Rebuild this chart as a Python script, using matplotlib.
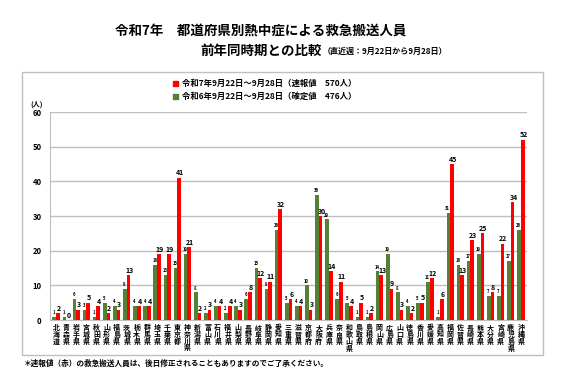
import matplotlib.pyplot as plt
import numpy as np

plt.rcParams['font.family'] = ['Noto Sans CJK JP', 'DejaVu Sans']

prefs = ['北海道', '青森県', '岩手県', '宮城県', '秋田県', '山形県', '福島県', '茨城県', '栃木県', '群馬県',
         '埼玉県', '千葉県', '東京都', '神奈川県', '新潟県', '富山県', '石川県', '福井県', '山梨県', '長野県',
         '岐阜県', '静岡県', '愛知県', '三重県', '滋賀県', '京都府', '大阪府', '兵庫県', '奈良県', '和歌山県',
         '鳥取県', '島根県', '岡山県', '広島県', '山口県', '徳島県', '香川県', '愛媛県', '高知県', '福岡県',
         '佐賀県', '長崎県', '熊本県', '大分県', '宮崎県', '鹿児島県', '沖縄県']
r7 = [2, 0, 3, 5, 4, 2, 3, 13, 4, 4,
      19, 19, 41, 21, 2, 3, 4, 4, 3, 8,
      12, 11, 32, 6, 4, 3, 30, 14, 11, 4,
      5, 2, 13, 9, 3, 2, 5, 12, 6, 45,
      13, 23, 25, 8, 22, 34, 52]
r6 = [1, 1, 6, 3, 1, 5, 4, 9, 4, 4,
      16, 13, 15, 19, 8, 2, 4, 2, 4, 6,
      15, 9, 26, 5, 4, 10, 36, 29, 6, 5,
      1, 1, 14, 19, 8, 4, 5, 11, 1, 31,
      16, 17, 19, 7, 7, 17, 26]

fig = plt.figure(figsize=(5.67, 3.73), dpi=100)

# chart frame
frame = plt.Rectangle((22/567, 1-355/373), (543-22)/567, (355-72)/373,
                      transform=fig.transFigure, fill=False, ec='#bfbfbf', lw=1)
fig.patches.append(frame)

ax = fig.add_axes([50/567, 1-320/373, (527-50)/567, (320-112)/373])
x = np.arange(len(prefs))
w = 0.36
ax.bar(x - w/2, r6, w, color='#548235', zorder=3)
ax.bar(x + w/2, r7, w, color='#ff0000', zorder=3)
for i in range(len(prefs)):
    ax.text(x[i] - w/2 - 0.05, r6[i] + 0.5, str(r6[i]), ha='center', va='bottom', fontsize=3, fontweight='bold')
    ax.text(x[i] + w/2 + 0.08, r7[i] + 0.4, str(r7[i]), ha='center', va='bottom', fontsize=5, fontweight='bold')

ax.set_ylim(0, 60)
ax.set_xlim(-0.6, len(prefs) - 0.4)
ax.set_yticks(range(0, 61, 10))
ax.tick_params(axis='y', length=0, labelsize=5.5, pad=6)
for t in ax.get_yticklabels():
    t.set_fontweight('bold')
ax.set_xticks(x)
ax.set_xticklabels(['\n'.join(p) for p in prefs], fontsize=5, fontweight='bold', linespacing=0.95, va='top')
ax.tick_params(axis='x', length=0, pad=3)
ax.grid(axis='y', color='#bfbfbf', lw=1, zorder=0)
for s in ['top', 'right']:
    ax.spines[s].set_visible(False)
ax.spines['left'].set_color('#bfbfbf')
ax.spines['bottom'].set_color('#bfbfbf')

fig.text(37/567, 1-104/373, '(人)', fontsize=5, fontweight='bold', ha='center', va='center')

# legend
fig.patches.append(plt.Rectangle((173/567, 1-86/373), 5/567, 5/373, transform=fig.transFigure, color='#ff0000'))
fig.text(182/567, 1-83/373, '令和7年9月22日～9月28日（速報値　570人）', fontsize=6, fontweight='bold', va='center')
fig.patches.append(plt.Rectangle((173/567, 1-99/373), 5/567, 5/373, transform=fig.transFigure, color='#548235'))
fig.text(182/567, 1-96/373, '令和6年9月22日～9月28日（確定値　476人）', fontsize=6, fontweight='bold', va='center')

# title
fig.text(115/567, 1-31/373, '令和7年　都道府県別熱中症による救急搬送人員', fontsize=9.7, fontweight='bold', va='center')
fig.text(200/567, 1-51/373, '前年同時期との比較', fontsize=9.7, fontweight='bold', va='center')
fig.text(323/567, 1-51/373, '（直近週：9月22日から9月28日）', fontsize=5.8, fontweight='bold', va='center')

fig.text(24/567, 1-363/373, '＊速報値（赤）の救急搬送人員は、後日修正されることもありますのでご了承ください。',
         fontsize=5.5, fontweight='bold', va='center')

fig.savefig('out.png', dpi=100)
